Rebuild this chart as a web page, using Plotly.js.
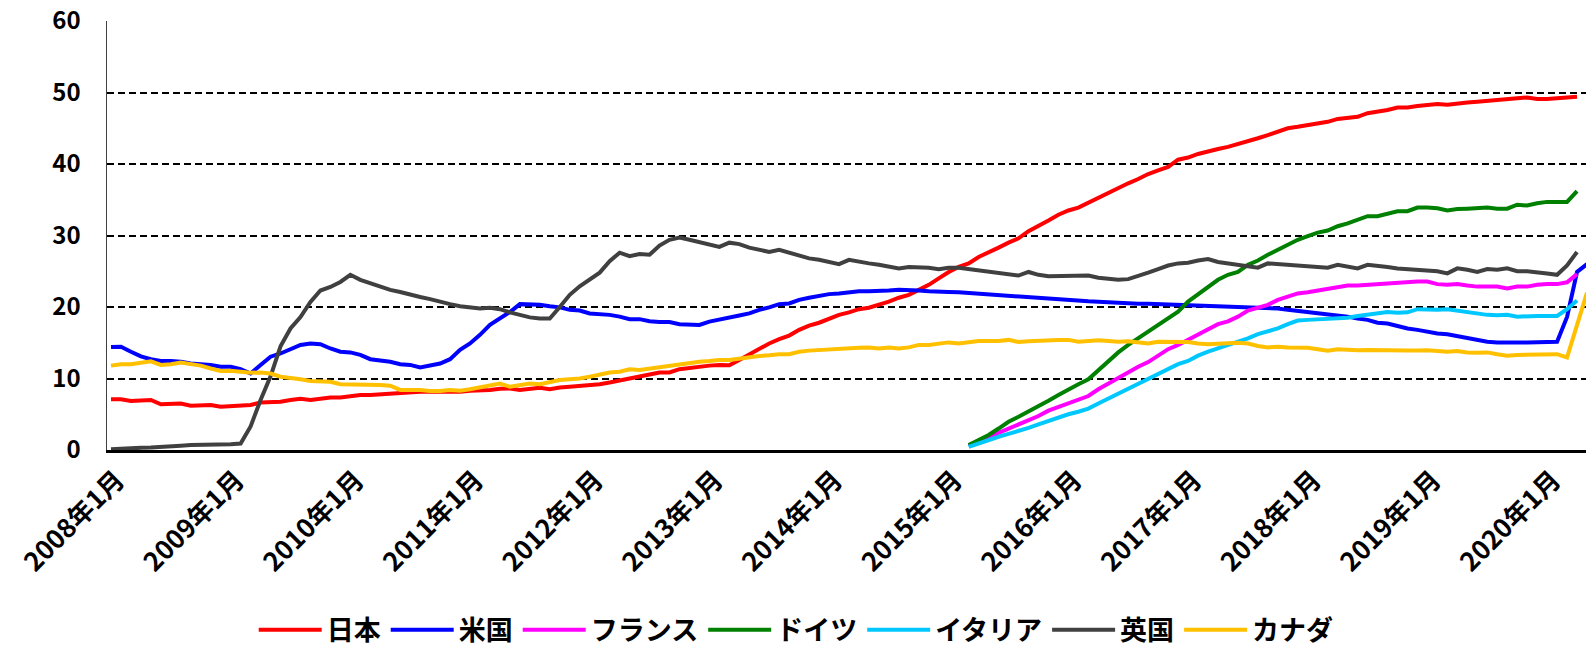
<!DOCTYPE html>
<html>
<head>
<meta charset="utf-8">
<script src="https://cdn.plot.ly/plotly-3.0.1.min.js"></script>
<style>
  body { margin: 0; background: #fff; }
  #graph { width: 1586px; height: 648px; }
</style>
</head>
<body>
<div id="graph"></div>
<script>
// months 2008-01 .. 2020-05 (the last one runs off the right edge)
var months = [];
for (var y = 2008; y <= 2020; y++) {
    for (var m = 1; m <= 12; m++) {
        months.push(y + '年' + m + '月');
    }
}
months = months.slice(0, 149);
var janTicks = months.filter(function(s) { return s.indexOf('年1月') > 0; });

var japan = [
    7.1, 7.1, 6.85, 6.9, 7.0, 6.4, 6.45, 6.5, 6.2, 6.3, 6.3, 6.05,
    6.15, 6.2, 6.3, 6.65, 6.75, 6.75, 7.0, 7.15, 7.0, 7.2, 7.35, 7.35,
    7.55, 7.7, 7.7, 7.8, 7.9, 8.0, 8.05, 8.15, 8.15, 8.15, 8.05, 8.15,
    8.3, 8.3, 8.4, 8.55, 8.6, 8.4, 8.6, 8.7, 8.5, 8.75, 8.85, 8.95,
    9.1, 9.2, 9.45, 9.7, 10.0, 10.25, 10.55, 10.85, 10.85, 11.3, 11.5, 11.65,
    11.8, 11.9, 11.85, 12.6, 13.4, 14.1, 14.9, 15.5, 16.0, 16.8, 17.4, 17.8,
    18.4, 18.9, 19.25, 19.7, 19.9, 20.3, 20.75, 21.3, 21.7, 22.4, 23.1, 24.0,
    24.9, 25.6, 26.1, 27.0, 27.6, 28.3, 29.0, 29.6, 30.6, 31.3, 32.1, 32.9,
    33.5, 33.9, 34.6, 35.3, 35.9, 36.6, 37.3, 37.9, 38.6, 39.1, 39.6, 40.6,
    40.9, 41.4, 41.8, 42.1, 42.4, 42.8, 43.1, 43.6, 44.05, 44.5, 45.0, 45.2,
    45.45, 45.7, 45.9, 46.3, 46.5, 46.6, 47.1, 47.3, 47.55, 47.9, 47.9, 48.1,
    48.25, 48.4, 48.3, 48.5, 48.6, 48.7, 48.85, 48.95, 49.05, 49.2, 49.3, 49.1,
    49.1, 49.2, 49.2, 49.4
];

var usa = [
    14.4, 14.45, 13.75, 13.1, 12.7, 12.45, 12.45, 12.35, 12.1, 12.0, 11.9, 11.65,
    11.65, 11.3, 10.7, 11.9, 13.05, 13.5, 14.1, 14.7, 14.9, 14.8, 14.2, 13.75,
    13.65, 13.3, 12.7, 12.5, 12.35, 12.0, 11.9, 11.55, 11.8, 12.1, 12.7, 14.0,
    14.9, 16.1, 17.5, 18.4, 19.3, 20.4, 20.4, 20.3, 20.1, 19.95, 19.6, 19.5,
    19.1, 19.0, 18.9, 18.65, 18.3, 18.3, 18.0, 17.9, 17.9, 17.6, 17.5, 17.5,
    17.95, 18.2, 18.55, 18.8, 19.1, 19.6, 19.95, 20.4, 20.5, 21.0, 21.3, 21.6,
    21.8, 21.9, 22.05, 22.2, 22.2, 22.2, 22.3, 22.4, 22.4, 22.3, 22.2, 22.1,
    22.1, 22.05, 21.95, 21.85, 21.8, 21.6, 21.6, 21.45, 21.4, 21.3, 21.2, 21.0,
    21.0, 20.9, 20.8, 20.75, 20.65, 20.55, 20.5, 20.45, 20.45, 20.4, 20.4, 20.3,
    20.2, 20.2, 20.1, 20.1, 20.05, 19.95, 19.95, 19.9, 19.85, 19.8, 19.6, 19.45,
    19.25, 19.1, 19.0, 18.9, 18.65, 18.4, 18.2, 17.8, 17.7, 17.35, 17.0, 16.8,
    16.55, 16.3, 16.2, 15.95, 15.6, 15.4, 15.15, 15.05, 15.0, 15.05, 15.05, 15.05,
    15.1, 15.15, 18.6, 24.9, 26.0
];

var france = [
    0.6, 1.15, 1.8, 2.4, 3.0, 3.5, 4.1, 4.75, 5.5, 6.0, 6.5, 7.1,
    7.55, 8.5, 9.3, 10.0, 10.9, 11.65, 12.3, 13.2, 14.1, 14.7, 15.4, 16.1,
    16.9, 17.6, 18.0, 18.65, 19.5, 19.95, 20.3, 21.0, 21.45, 21.9, 22.05, 22.3,
    22.5, 22.7, 23.0, 23.0, 23.1, 23.2, 23.3, 23.4, 23.45, 23.55, 23.55, 23.2,
    23.1, 23.2, 23.0, 22.85, 22.85, 22.85, 22.6, 22.85, 22.85, 23.1, 23.2, 23.2,
    23.45, 24.6
];

var germany = [
    0.7, 1.4, 2.1, 3.0, 3.95, 4.65, 5.35, 6.15, 6.9, 7.7, 8.5, 9.2,
    9.9, 11.2, 12.45, 13.65, 14.7, 15.6, 16.6, 17.5, 18.3, 19.35, 20.75, 21.8,
    22.8, 23.8, 24.5, 24.9, 25.9, 26.5, 27.3, 28.0, 28.6, 29.4, 29.9, 30.4,
    30.7, 31.3, 31.7, 32.2, 32.7, 32.7, 33.1, 33.4, 33.4, 33.9, 33.9, 33.8,
    33.5, 33.7, 33.75, 33.8, 33.9, 33.75, 33.75, 34.3, 34.2, 34.5, 34.7, 34.7,
    34.7, 36.2
];

var italy = [
    0.45, 0.95, 1.4, 1.85, 2.25, 2.65, 3.1, 3.6, 4.1, 4.55, 5.0, 5.35,
    5.8, 6.5, 7.2, 7.9, 8.6, 9.2, 10.0, 10.7, 11.4, 12.0, 12.45, 13.2,
    13.75, 14.2, 14.7, 15.15, 15.6, 16.2, 16.55, 17.0, 17.6, 18.1, 18.2, 18.3,
    18.4, 18.4, 18.5, 18.75, 18.9, 19.1, 19.3, 19.2, 19.25, 19.7, 19.6, 19.6,
    19.7, 19.5, 19.25, 19.0, 18.9, 18.85, 18.9, 18.65, 18.75, 18.75, 18.75, 18.75,
    19.7, 20.9
];

var uk = [
    0.1, 0.2, 0.3, 0.3, 0.35, 0.4, 0.5, 0.6, 0.7, 0.7, 0.8, 0.8,
    0.8, 0.9, 3.3, 7.0, 10.3, 14.5, 17.0, 18.6, 20.7, 22.3, 22.8, 23.5,
    24.5, 23.8, 23.3, 22.8, 22.4, 22.1, 21.7, 21.4, 21.1, 20.7, 20.4, 20.1,
    19.9, 19.8, 19.9, 19.7, 19.25, 18.9, 18.55, 18.4, 18.4, 20.0, 21.7, 22.9,
    23.8, 24.8, 26.4, 27.6, 27.1, 27.4, 27.3, 28.6, 29.4, 29.7, 29.4, 29.1,
    28.8, 28.4, 29.0, 28.8, 28.3, 28.0, 27.7, 28.0, 27.6, 27.2, 26.8, 26.6,
    26.3, 26.0, 26.6, 26.3, 26.1, 25.9, 25.6, 25.4, 25.6, 25.6, 25.5, 25.3,
    25.5, 25.5, 25.3, 25.1, 24.9, 24.7, 24.5, 24.4, 24.9, 24.5, 24.3, 24.3,
    24.3, 24.4, 24.4, 24.1, 23.9, 23.8, 23.9, 24.3, 24.8, 25.3, 25.8, 26.1,
    26.2, 26.5, 26.7, 26.3, 26.1, 26.0, 25.7, 25.5, 26.1, 26.0, 26.0, 25.9,
    25.8, 25.6, 25.5, 25.9, 25.6, 25.4, 25.9, 25.8, 25.6, 25.4, 25.3, 25.2,
    25.1, 25.0, 24.7, 25.4, 25.2, 24.9, 25.3, 25.2, 25.4, 25.0, 25.0, 24.9,
    24.7, 24.5, 25.8, 27.7
];

var canada = [
    11.8, 12.0, 12.0, 12.25, 12.4, 11.9, 12.0, 12.25, 12.0, 11.8, 11.4, 11.05,
    11.1, 10.95, 10.8, 10.85, 10.7, 10.25, 10.1, 9.9, 9.65, 9.65, 9.55, 9.2,
    9.2, 9.2, 9.1, 9.1, 9.0, 8.4, 8.4, 8.4, 8.25, 8.25, 8.4, 8.3,
    8.5, 8.75, 9.0, 9.3, 8.85, 9.1, 9.3, 9.2, 9.55, 9.8, 9.9, 10.0,
    10.25, 10.6, 10.85, 10.95, 11.3, 11.2, 11.4, 11.65, 11.85, 12.0, 12.2, 12.35,
    12.45, 12.6, 12.6, 12.8, 13.05, 13.15, 13.25, 13.4, 13.4, 13.75, 13.9, 14.0,
    14.1, 14.1, 14.2, 14.3, 14.35, 14.2, 14.35, 14.2, 14.35, 14.7, 14.7, 14.9,
    15.05, 14.9, 15.1, 15.25, 15.25, 15.25, 15.4, 15.1, 15.2, 15.3, 15.35, 15.4,
    15.4, 15.15, 15.25, 15.35, 15.25, 15.15, 15.2, 15.05, 14.9, 15.15, 15.1, 15.05,
    15.1, 14.9, 14.8, 14.85, 14.9, 15.0, 14.9, 14.55, 14.35, 14.45, 14.35, 14.3,
    14.3, 14.1, 13.9, 14.1, 14.0, 13.95, 14.0, 13.95, 13.9, 13.95, 13.9, 13.9,
    13.95, 13.85, 13.75, 13.85, 13.65, 13.6, 13.65, 13.4, 13.2, 13.3, 13.3, 13.3,
    13.4, 13.4, 12.95, 17.3, 22.0
];

// euro area series start at 2015年3月
var euroStart = months.indexOf('2015年3月');

function line(name, x, y, color) {
    return {
        type: 'scatter',
        mode: 'lines',
        name: name,
        x: x,
        y: y,
        line: {color: color, width: 4, shape: 'linear'}
    };
}

var euroX = months.slice(euroStart, euroStart + france.length);
var data = [
    line('日本', months.slice(0, japan.length), japan, '#ff0000'),
    line('米国', months.slice(0, usa.length), usa, '#0000ff'),
    line('フランス', euroX, france, '#ff00ff'),
    line('ドイツ', euroX, germany, '#008000'),
    line('イタリア', euroX, italy, '#00c8ff'),
    line('英国', months.slice(0, uk.length), uk, '#404040'),
    line('カナダ', months.slice(0, canada.length), canada, '#ffc000')
];

var fam = '"Noto Sans CJK JP", "Noto Sans", sans-serif';

var layout = {
    width: 1586,
    height: 648,
    margin: {l: 107, r: 0, t: 21, b: 198, autoexpand: false},
    paper_bgcolor: '#fff',
    plot_bgcolor: '#fff',
    font: {family: fam, size: 23, color: '#000', weight: 'bold'},
    showlegend: true,
    legend: {
        orientation: 'h',
        x: 0.466,
        xanchor: 'center',
        y: -0.42,
        yanchor: 'middle',
        itemwidth: 63,
        font: {family: fam, size: 27, color: '#000', weight: 'bold'},
        traceorder: 'normal'
    },
    xaxis: {
        type: 'category',
        categoryorder: 'array',
        categoryarray: months,
        range: [-0.4, 147.9],
        tickmode: 'array',
        tickvals: janTicks,
        ticktext: janTicks,
        tickangle: -45,
        ticks: '',
        ticklabelstandoff: 2,
        ticklabelshift: 6,
        showgrid: false,
        zeroline: false,
        showline: true,
        linecolor: '#000',
        linewidth: 2.5,
        tickfont: {family: fam, size: 26, color: '#000', weight: 'bold'}
    },
    yaxis: {
        range: [0, 60],
        dtick: 10,
        tick0: 0,
        ticks: '',
        ticklabelstandoff: 20,
        showgrid: true,
        gridcolor: '#000',
        gridwidth: 2,
        griddash: '7px,4px',
        zeroline: false,
        showline: true,
        linecolor: '#404040',
        linewidth: 1.5,
        tickfont: {family: fam, size: 24, color: '#000', weight: 'bold'}
    }
};

Plotly.newPlot('graph', data, layout, {displayModeBar: false, staticPlot: true});
</script>
</body>
</html>
